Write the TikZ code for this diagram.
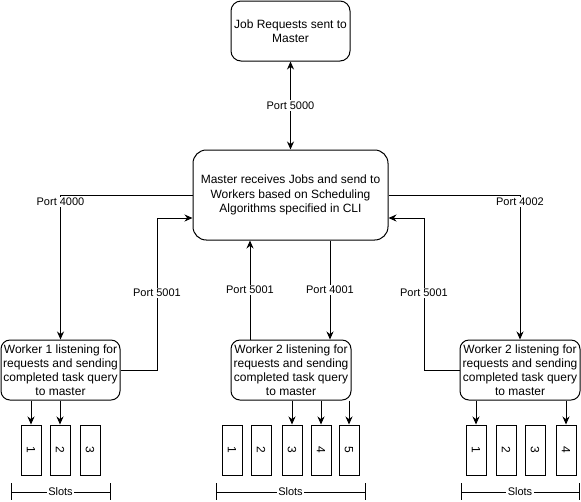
\documentclass[tikz,border=0pt]{standalone}
\usepackage{fontspec}
\setmainfont{Liberation Sans}
\usetikzlibrary{arrows.meta,calc}
\begin{document}
\begin{tikzpicture}[x=0.75pt,y=-0.75pt,
  every node/.style={font=\fontsize{8.25}{10.5}\selectfont},
  box/.style={draw,line width=0.75pt,align=center,inner sep=1pt,font=\fontsize{9}{10.6}\selectfont},
  slotbox/.style={draw,line width=0.75pt,minimum width=15pt,minimum height=37.5pt,inner sep=0pt,font=\fontsize{9}{10.8}\selectfont},
  lbl/.style={fill=white,inner sep=1pt},
  arr/.style={line width=0.75pt,-{Stealth[length=6pt,width=5.25pt]}},
  dblarr/.style={line width=0.75pt,{Stealth[length=6pt,width=5.25pt]}-{Stealth[length=6pt,width=5.25pt]}},
  plain/.style={line width=0.75pt}
]
\useasboundingbox (0,0) rectangle (581,501);

% boxes
\node[box,rounded corners=7.5pt,minimum width=89.25pt,minimum height=45pt] (top) at (290.5,31) {Job Requests sent to\\Master};
\node[box,rounded corners=10pt,minimum width=146.25pt,minimum height=67.5pt] (master) at (290.5,195) {Master receives Jobs and send to\\Workers based on Scheduling\\Algorithms specified in CLI};
\node[box,rounded corners=6.75pt,minimum width=89.25pt,minimum height=45pt] (w1) at (60.5,370) {Worker 1 listening for\\requests and sending\\completed task query\\to master};
\node[box,rounded corners=6.75pt,minimum width=90pt,minimum height=45pt] (w2) at (291,370) {Worker 2 listening for\\requests and sending\\completed task query\\to master};
\node[box,rounded corners=6.75pt,minimum width=90pt,minimum height=45pt] (w3) at (520,370) {Worker 2 listening for\\requests and sending\\completed task query\\to master};

% slots worker 1
\node[slotbox] (a1) at (31,450) {\rotatebox{-90}{1}};
\node[slotbox] (a2) at (60,450) {\rotatebox{-90}{2}};
\node[slotbox] (a3) at (90,450) {\rotatebox{-90}{3}};
% slots worker 2
\node[slotbox] (b1) at (232,450) {\rotatebox{-90}{1}};
\node[slotbox] (b2) at (261,450) {\rotatebox{-90}{2}};
\node[slotbox] (b3) at (292,450) {\rotatebox{-90}{3}};
\node[slotbox] (b4) at (321,450) {\rotatebox{-90}{4}};
\node[slotbox] (b5) at (349,450) {\rotatebox{-90}{5}};
% slots worker 3
\node[slotbox] (c1) at (476,450) {\rotatebox{-90}{1}};
\node[slotbox] (c2) at (506,450) {\rotatebox{-90}{2}};
\node[slotbox] (c3) at (535,450) {\rotatebox{-90}{3}};
\node[slotbox] (c4) at (566,450) {\rotatebox{-90}{4}};

% top <-> master
\draw[dblarr] (top.south) -- node[lbl]{Port 5000} (master.north);

% master -> worker 1
\draw[arr] (master.west) -| node[lbl,pos=0.5,yshift=-5.25pt]{Port 4000} (w1.north);
% worker 1 -> master
\coordinate (m1) at ($(master.west)+(0,23)$);
\coordinate (k1) at (157,218);
\draw[arr] (w1.east) -| node[lbl,pos=0.753]{Port 5001} (k1) -- (m1);

% worker 2 <-> master
\coordinate (p2) at ($(w2.north)+(-41,0)$);
\draw[arr] (p2) -- node[lbl]{Port 5001} (p2 |- master.south);
\coordinate (q2) at ($(master.south)+(39.5,0)$);
\draw[arr] (q2) -- node[lbl]{Port 4001} (q2 |- w2.north);

% master -> worker 3
\draw[arr] (master.east) -| node[lbl,pos=0.5,yshift=-5.25pt]{Port 4002} (w3.north);
% worker 3 -> master
\coordinate (m3) at ($(master.east)+(0,23)$);
\coordinate (k3) at (424,218);
\draw[arr] (w3.west) -| node[lbl,pos=0.753]{Port 5001} (k3) -- (m3);

% worker -> slot arrows
\draw[arr] (a1.north |- w1.south) -- (a1.north);
\draw[arr] (a2.north |- w1.south) -- (a2.north);
\draw[arr] (b3.north |- w2.south) -- (b3.north);
\draw[arr] (b4.north |- w2.south) -- (b4.north);
\draw[arr] (b5.north |- w2.south) -- (b5.north);
\draw[arr] (c1.north |- w3.south) -- (c1.north);
\draw[arr] (c4.north |- w3.south) -- (c4.north);

% slot brackets
\coordinate (la) at (11,492); \coordinate (ra) at (110,492);
\draw[plain] (la) -- node[lbl]{Slots} (ra);
\draw[plain] ($(la)+(0,-9)$) -- ($(la)+(0,8)$);
\draw[plain] ($(ra)+(0,-9)$) -- ($(ra)+(0,8)$);
\coordinate (lb) at (216,492); \coordinate (rb) at (365,492);
\draw[plain] (lb) -- node[lbl]{Slots} (rb);
\draw[plain] ($(lb)+(0,-9)$) -- ($(lb)+(0,8)$);
\draw[plain] ($(rb)+(0,-9)$) -- ($(rb)+(0,8)$);
\coordinate (lc) at (461,492); \coordinate (rc) at (579,492);
\draw[plain] (lc) -- node[lbl]{Slots} (rc);
\draw[plain] ($(lc)+(0,-9)$) -- ($(lc)+(0,8)$);
\draw[plain] ($(rc)+(0,-9)$) -- ($(rc)+(0,8)$);
\end{tikzpicture}
\end{document}
